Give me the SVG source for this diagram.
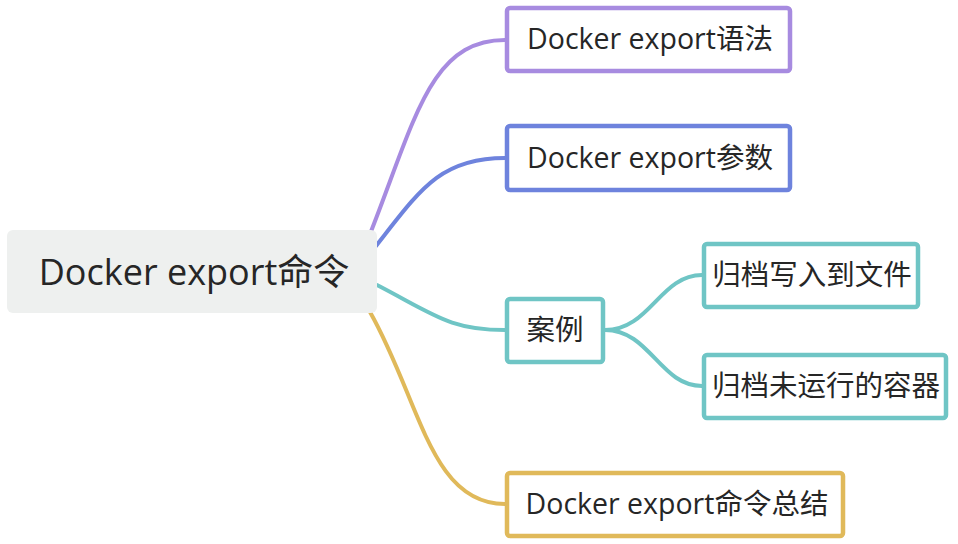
<svg xmlns="http://www.w3.org/2000/svg" width="958" height="544" viewBox="0 0 958 544">
<style>
text{font-family:"Open Sans","Noto Sans CJK SC",sans-serif;fill:#262626;text-anchor:middle}
.t{font-size:28.5px}
.box{fill:#fff;stroke-width:4.5}
.c{fill:none;stroke-width:4;stroke-linecap:round}
</style>
<rect width="958" height="544" fill="#fff"/>
<g id="connectors">
<path class="c" stroke="#a78be0" d="M370 234 C415 120 430 40 505 40"/>
<path class="c" stroke="#6e83dd" d="M376 246 C420 190 440 158 505 158"/>
<path class="c" stroke="#6fc5c5" d="M377 285 C435 315 450 330 505 330"/>
<path class="c" stroke="#e0b95a" d="M370 312 C420 400 430 504 505 504"/>
<path class="c" stroke="#6fc5c5" d="M605 330 C650 330 660 275 702 275"/>
<path class="c" stroke="#6fc5c5" d="M605 330 C650 330 660 386 702 386"/>
</g>
<g id="root">
<rect x="7" y="230" width="370" height="83" rx="6" fill="#eef0ef"/>
<text x="194" y="285" style="font-size:36px">Docker export命令</text>
</g>
<g id="n1">
<rect class="box" x="507" y="8" width="283" height="63" rx="3" stroke="#a78be0"/>
<text class="t" x="650" y="49">Docker export语法</text>
</g>
<g id="n2">
<rect class="box" x="507" y="126" width="283" height="64" rx="3" stroke="#6e83dd"/>
<text class="t" x="650" y="168">Docker export参数</text>
</g>
<g id="n3">
<rect class="box" x="507" y="299" width="96" height="63" rx="3" stroke="#6fc5c5"/>
<text class="t" x="555" y="340">案例</text>
</g>
<g id="n31">
<rect class="box" x="704" y="244" width="214" height="63" rx="3" stroke="#6fc5c5"/>
<text class="t" x="812" y="285">归档写入到文件</text>
</g>
<g id="n32">
<rect class="box" x="704" y="355" width="242" height="63" rx="3" stroke="#6fc5c5"/>
<text class="t" x="826" y="396">归档未运行的容器</text>
</g>
<g id="n4">
<rect class="box" x="507" y="473" width="336" height="63" rx="3" stroke="#e0b95a"/>
<text class="t" x="677" y="514">Docker export命令总结</text>
</g>
</svg>
